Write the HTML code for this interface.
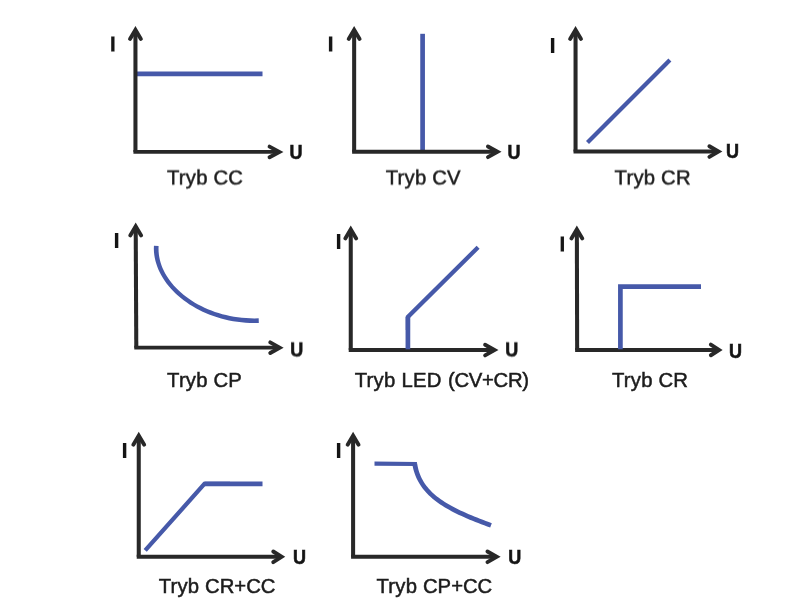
<!DOCTYPE html>
<html lang="pl"><head><meta charset="utf-8"><title>Tryby pracy</title>
<style>
html,body{margin:0;padding:0;background:#fff;}
body{width:800px;height:600px;overflow:hidden;}
svg{display:block;}
text{font-family:"Liberation Sans",sans-serif;}
.b{font-weight:bold;font-size:20.0px;fill:#141414;stroke:#141414;stroke-width:0.6px;}
.i{font-weight:bold;font-size:22.2px;fill:#141414;stroke:#141414;stroke-width:0.15px;}
.l{font-size:20.3px;fill:#1c1c1c;stroke:#1c1c1c;stroke-width:0.5px;}
</style></head><body>
<svg width="800" height="600" viewBox="0 0 800 600">
<defs><filter id="hs" x="-30%" y="-40%" width="160%" height="180%"><feConvolveMatrix order="1 2" kernelMatrix="0.5 0.5" targetY="1"/></filter></defs>
<rect width="800" height="600" fill="#fff"/>
<path d="M137,73.95 L262.5,73.95" fill="none" stroke="#4659a9" stroke-width="4.70"/>
<path d="M135.45,30.30 L135.45,151.9" fill="none" stroke="#282828" stroke-width="4.05"/>
<path d="M133.42,151.9 H279.00" fill="none" stroke="#282828" stroke-width="3.9"/>
<path d="M130.00,38.95 L135.45,29.90 L140.90,38.95" fill="none" stroke="#282828" stroke-width="3.9" stroke-linecap="round" stroke-linejoin="miter"/>
<path d="M269.55,146.60 L279.35,151.9 L269.55,157.20" fill="none" stroke="#282828" stroke-width="3.9" stroke-linecap="round" stroke-linejoin="miter"/>
<text x="112.75" y="51" class="i" text-anchor="middle" filter="url(#hs)">I</text>
<text transform="translate(289.45,159) scale(0.9,1)" class="b">U</text>
<text y="184" class="l" filter="url(#hs)"><tspan x="167.02" style="letter-spacing:0.2px">Tryb CC</tspan></text>
<path d="M422.6,33.8 L422.6,150.5" fill="none" stroke="#4659a9" stroke-width="4.70"/>
<path d="M354.15,30.30 L354.15,151.8" fill="none" stroke="#282828" stroke-width="4.05"/>
<path d="M352.12,151.8 H497.10" fill="none" stroke="#282828" stroke-width="3.9"/>
<path d="M348.70,38.95 L354.15,29.90 L359.60,38.95" fill="none" stroke="#282828" stroke-width="3.9" stroke-linecap="round" stroke-linejoin="miter"/>
<path d="M487.95,146.50 L497.52,151.8 L487.95,157.10" fill="none" stroke="#282828" stroke-width="3.9" stroke-linecap="round" stroke-linejoin="miter"/>
<text x="330.65" y="51" class="i" text-anchor="middle" filter="url(#hs)">I</text>
<text transform="translate(507.45,159) scale(0.9,1)" class="b">U</text>
<text y="184" class="l" filter="url(#hs)"><tspan x="385.78" style="letter-spacing:0.2px">Tryb CV</tspan></text>
<path d="M587.5,142.6 L669.9,60.1" fill="none" stroke="#4659a9" stroke-width="4.25"/>
<path d="M575.55,30.30 L575.55,151.55" fill="none" stroke="#282828" stroke-width="4.05"/>
<path d="M573.52,151.55 H717.95" fill="none" stroke="#282828" stroke-width="3.9"/>
<path d="M570.10,38.95 L575.55,29.90 L581.00,38.95" fill="none" stroke="#282828" stroke-width="3.9" stroke-linecap="round" stroke-linejoin="miter"/>
<path d="M709.40,146.25 L718.52,151.55 L709.40,156.85" fill="none" stroke="#282828" stroke-width="3.9" stroke-linecap="round" stroke-linejoin="miter"/>
<text x="552.7" y="53" class="i" text-anchor="middle">I</text>
<text transform="translate(725.95,158) scale(0.9,1)" class="b">U</text>
<text y="184" class="l" filter="url(#hs)"><tspan x="614.62" style="letter-spacing:0.2px">Tryb CR</tspan></text>
<path d="M153.93,245.77 L153.83,248.83 L153.97,251.88 L154.30,254.91 L154.80,257.91 L155.47,260.89 L156.32,263.84 L157.32,266.76 L158.49,269.64 L159.82,272.48 L161.29,275.28 L162.92,278.04 L164.68,280.74 L166.59,283.39 L168.64,285.99 L170.82,288.53 L173.13,291.00 L175.57,293.42 L178.13,295.76 L180.81,298.03 L183.60,300.23 L186.51,302.35 L189.53,304.38 L192.66,306.34 L195.89,308.20 L199.22,309.97 L202.64,311.65 L206.16,313.22 L209.77,314.70 L213.46,316.06 L217.24,317.32 L221.10,318.47 L225.03,319.49 L229.03,320.40 L233.11,321.18 L237.25,321.84 L241.45,322.36 L245.71,322.75 L250.03,323.00 L254.40,323.10 L258.82,323.04 L258.68,318.36 L254.42,318.41 L250.21,318.33 L246.04,318.12 L241.93,317.78 L237.87,317.30 L233.88,316.70 L229.95,315.97 L226.08,315.12 L222.28,314.16 L218.56,313.08 L214.92,311.89 L211.35,310.59 L207.87,309.20 L204.48,307.70 L201.18,306.10 L197.97,304.42 L194.87,302.64 L191.86,300.78 L188.96,298.84 L186.17,296.82 L183.50,294.73 L180.94,292.57 L178.50,290.34 L176.18,288.04 L173.99,285.69 L171.93,283.29 L170.01,280.83 L168.22,278.33 L166.57,275.78 L165.07,273.19 L163.72,270.57 L162.51,267.92 L161.46,265.24 L160.57,262.53 L159.83,259.81 L159.26,257.07 L158.85,254.32 L158.60,251.56 L158.53,248.80 L158.57,246.03Z" fill="#4659a9"/>
<path d="M135.7,226.80 L136.3,347.65" fill="none" stroke="#282828" stroke-width="4.05"/>
<path d="M134.28,347.65 H279.20" fill="none" stroke="#282828" stroke-width="3.9"/>
<path d="M130.25,235.45 L135.7,226.40 L141.15,235.45" fill="none" stroke="#282828" stroke-width="3.9" stroke-linecap="round" stroke-linejoin="miter"/>
<path d="M270.25,342.35 L279.67,347.65 L270.25,352.95" fill="none" stroke="#282828" stroke-width="3.9" stroke-linecap="round" stroke-linejoin="miter"/>
<text x="116.5" y="248" class="i" text-anchor="middle">I</text>
<text transform="translate(290.15,356) scale(0.9,1)" class="b" filter="url(#hs)">U</text>
<text y="387" class="l"><tspan x="167.08" style="letter-spacing:0.2px">Tryb CP</tspan></text>
<path d="M350.75,229.80 L350.75,350.05" fill="none" stroke="#282828" stroke-width="4.05"/>
<path d="M348.73,350.05 H494.05" fill="none" stroke="#282828" stroke-width="3.9"/>
<path d="M345.30,238.45 L350.75,229.40 L356.20,238.45" fill="none" stroke="#282828" stroke-width="3.9" stroke-linecap="round" stroke-linejoin="miter"/>
<path d="M485.10,344.75 L494.52,350.05 L485.10,355.35" fill="none" stroke="#282828" stroke-width="3.9" stroke-linecap="round" stroke-linejoin="miter"/>
<path d="M407.9,330 L407.9,316.9 L478.1,247.25" fill="none" stroke="#4659a9" stroke-width="4.25" stroke-linejoin="miter"/>
<path d="M407.9,349.3 L407.9,316.9" fill="none" stroke="#4659a9" stroke-width="4.70"/>
<text x="338.7" y="249" class="i" text-anchor="middle">I</text>
<text transform="translate(505.15,356) scale(0.9,1)" class="b" filter="url(#hs)">U</text>
<text y="387" class="l"><tspan x="354.72" style="letter-spacing:0.25px">Tryb LED </tspan><tspan x="447.99" style="letter-spacing:-0.3px">(CV+CR)</tspan></text>
<path d="M576.85,229.80 L577.15,349.95" fill="none" stroke="#282828" stroke-width="4.05"/>
<path d="M575.12,349.95 H718.20" fill="none" stroke="#282828" stroke-width="3.9"/>
<path d="M571.40,238.45 L576.85,229.40 L582.30,238.45" fill="none" stroke="#282828" stroke-width="3.9" stroke-linecap="round" stroke-linejoin="miter"/>
<path d="M710.85,344.65 L719.06,349.95 L710.85,355.25" fill="none" stroke="#282828" stroke-width="3.9" stroke-linecap="round" stroke-linejoin="miter"/>
<path d="M620.4,349.3 L620.4,286.65 L701,286.65" fill="none" stroke="#4659a9" stroke-width="4.7" stroke-linejoin="miter"/>
<text x="562.25" y="251" class="i" text-anchor="middle" filter="url(#hs)">I</text>
<text transform="translate(729.00,358) scale(0.9,1)" class="b">U</text>
<text y="387" class="l"><tspan x="612.02" style="letter-spacing:0.2px">Tryb CR</tspan></text>
<path d="M145.2,550.4 L204.4,483.95 L230,483.95" fill="none" stroke="#4659a9" stroke-width="4.25" stroke-linejoin="miter"/>
<path d="M204.4,483.95 L262.5,483.95" fill="none" stroke="#4659a9" stroke-width="4.70"/>
<path d="M138.75,436.05 L138.75,556.8" fill="none" stroke="#282828" stroke-width="4.05"/>
<path d="M136.72,556.8 H280.80" fill="none" stroke="#282828" stroke-width="3.9"/>
<path d="M133.30,444.70 L138.75,435.65 L144.20,444.70" fill="none" stroke="#282828" stroke-width="3.9" stroke-linecap="round" stroke-linejoin="miter"/>
<path d="M273.25,551.50 L281.61,556.8 L273.25,562.10" fill="none" stroke="#282828" stroke-width="3.9" stroke-linecap="round" stroke-linejoin="miter"/>
<text x="124.7" y="458" class="i" text-anchor="middle">I</text>
<text transform="translate(293.10,564) scale(0.9,1)" class="b">U</text>
<text y="593" class="l"><tspan x="158.74" style="letter-spacing:0.17px">Tryb CR</tspan><tspan x="234.30" style="letter-spacing:0px">+CC</tspan></text>
<path d="M374.5,463.7 L416.9,464.0" fill="none" stroke="#4659a9" stroke-width="4.20"/>
<path d="M412.34,464.27 L412.79,466.75 L413.35,469.17 L414.00,471.52 L414.75,473.81 L415.59,476.04 L416.52,478.20 L417.54,480.31 L418.65,482.36 L419.85,484.35 L421.13,486.28 L422.49,488.16 L423.93,489.99 L425.45,491.77 L427.04,493.50 L428.71,495.18 L430.45,496.82 L432.26,498.42 L434.14,499.97 L436.09,501.49 L438.11,502.96 L440.19,504.41 L442.33,505.82 L444.54,507.19 L446.81,508.54 L449.13,509.86 L451.52,511.16 L453.96,512.43 L456.45,513.68 L459.00,514.90 L461.60,516.11 L464.25,517.31 L466.96,518.49 L469.71,519.65 L472.50,520.81 L475.34,521.95 L478.23,523.09 L481.16,524.23 L484.13,525.36 L487.14,526.49 L490.19,527.61 L491.81,523.19 L488.78,522.07 L485.79,520.95 L482.84,519.83 L479.94,518.71 L477.08,517.59 L474.27,516.46 L471.51,515.33 L468.80,514.18 L466.14,513.03 L463.54,511.87 L460.99,510.69 L458.49,509.50 L456.06,508.29 L453.68,507.06 L451.37,505.82 L449.11,504.55 L446.93,503.26 L444.80,501.94 L442.74,500.60 L440.76,499.24 L438.84,497.84 L436.99,496.41 L435.21,494.95 L433.51,493.45 L431.88,491.93 L430.33,490.36 L428.85,488.75 L427.46,487.11 L426.14,485.42 L424.90,483.69 L423.75,481.91 L422.67,480.09 L421.68,478.21 L420.78,476.29 L419.96,474.31 L419.22,472.27 L418.58,470.18 L418.02,468.03 L417.55,465.81 L417.16,463.53Z" fill="#4659a9"/>
<path d="M353.1,436.05 L353.1,556.8" fill="none" stroke="#282828" stroke-width="4.05"/>
<path d="M351.08,556.8 H496.20" fill="none" stroke="#282828" stroke-width="3.9"/>
<path d="M347.65,444.70 L353.1,435.65 L358.55,444.70" fill="none" stroke="#282828" stroke-width="3.9" stroke-linecap="round" stroke-linejoin="miter"/>
<path d="M487.45,551.50 L496.72,556.8 L487.45,562.10" fill="none" stroke="#282828" stroke-width="3.9" stroke-linecap="round" stroke-linejoin="miter"/>
<text x="338.7" y="458" class="i" text-anchor="middle">I</text>
<text transform="translate(508.20,564) scale(0.9,1)" class="b">U</text>
<text y="593" class="l"><tspan x="376.50" style="letter-spacing:0.2px">Tryb </tspan><tspan style="letter-spacing:0px">CP+CC</tspan></text>
</svg>
</body></html>
